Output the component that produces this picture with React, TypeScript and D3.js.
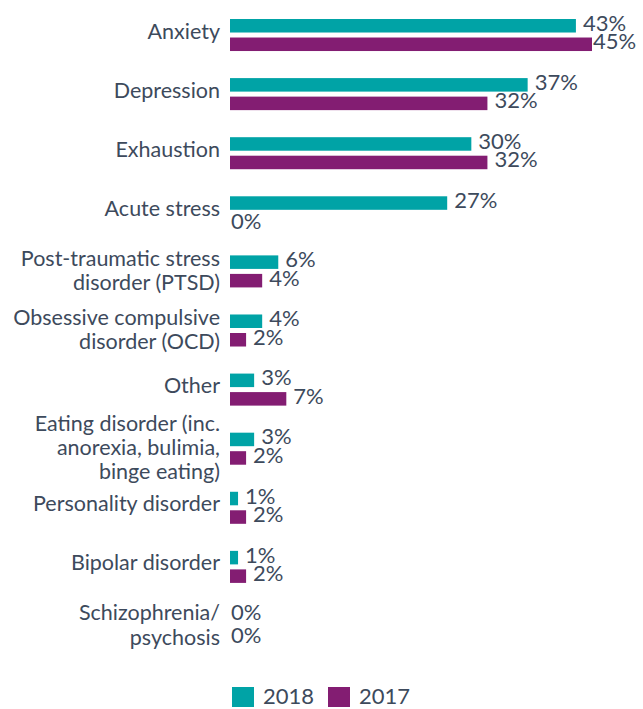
import React from "react";
import * as d3 from "d3";

const categories = [
  "Anxiety",
  "Depression",
  "Exhaustion",
  "Acute stress",
  "Post-traumatic stress\ndisorder (PTSD)",
  "Obsessive compulsive\ndisorder (OCD)",
  "Other",
  "Eating disorder (inc.\nanorexia, bulimia,\nbinge eating)",
  "Personality disorder",
  "Bipolar disorder",
  "Schizophrenia/\npsychosis",
];
const seriesNames = ["2018", "2017"];
const values2018 = [43, 37, 30, 27, 6, 4, 3, 3, 1, 1, 0];
const values2017 = [45, 32, 32, 0, 4, 2, 7, 2, 2, 2, 0];

const W = 643;
const H = 709;
const COLORS: Record<string, string> = { "2018": "#00a3a6", "2017": "#831d72" };
const TEXT = "#3d4a5c";
const FONT = "Lato, 'Open Sans', sans-serif";
const FS = 21.5;
const FSV = 22;

export default function App() {
  const x = d3.scaleLinear().domain([0, 45]).range([230, 592]);
  const y = d3
    .scaleBand<string>()
    .domain(categories)
    .range([19, 642])
    .paddingInner(0.458)
    .paddingOuter(0);
  const inner = d3
    .scaleBand<string>()
    .domain(seriesNames)
    .range([0, y.bandwidth()])
    .paddingInner(0.27);
  const seriesValues: Record<string, number[]> = { "2018": values2018, "2017": values2017 };
  const lh = 24.2;
  const labelW = 47;

  return (
    <svg
      width={W}
      height={H}
      style={{ position: "absolute", left: 0, top: 0, background: "#fff" }}
      fontFamily={FONT}
      fontSize={FS}
    >
      {categories.map((c, i) => {
        const y0 = y(c)!;
        const center = y0 + y.bandwidth() / 2;
        const lines = c.split("\n");
        const n = lines.length;
        const first = center + (n === 1 ? 3.5 : 6.5) - ((n - 1) * lh) / 2;
        return (
          <g key={c}>
            <text x={220} textAnchor="end" fill={TEXT}>
              {lines.map((l, j) => (
                <tspan key={j} x={220} y={first + j * lh}>
                  {l}
                </tspan>
              ))}
            </text>
            {seriesNames.map((s, k) => {
              const v = seriesValues[s][i];
              const by = y0 + inner(s)!;
              const end = x(v);
              const lx = v > 0 ? Math.min(end + 7, W - 3 - labelW) : x(0) + 1;
              const zeroShift = v === 0 ? (k === 0 ? -1.5 : 2.5) : 0;
              return (
                <g key={s}>
                  {v > 0 && (
                    <rect
                      x={x(0)}
                      y={by}
                      width={end - x(0)}
                      height={inner.bandwidth()}
                      fill={COLORS[s]}
                    />
                  )}
                  <text
                    x={lx}
                    y={by + inner.bandwidth() / 2 + 5 + zeroShift}
                    fill={TEXT}
                    fontSize={FSV}
                  >
                    {v}%
                  </text>
                </g>
              );
            })}
          </g>
        );
      })}
      {seriesNames.map((s, k) => (
        <g key={s} transform={`translate(${232 + k * 96},687)`}>
          <rect width={22} height={20} fill={COLORS[s]} />
          <text x={31} y={17} fill={TEXT} fontSize={FSV}>
            {s}
          </text>
        </g>
      ))}
    </svg>
  );
}
